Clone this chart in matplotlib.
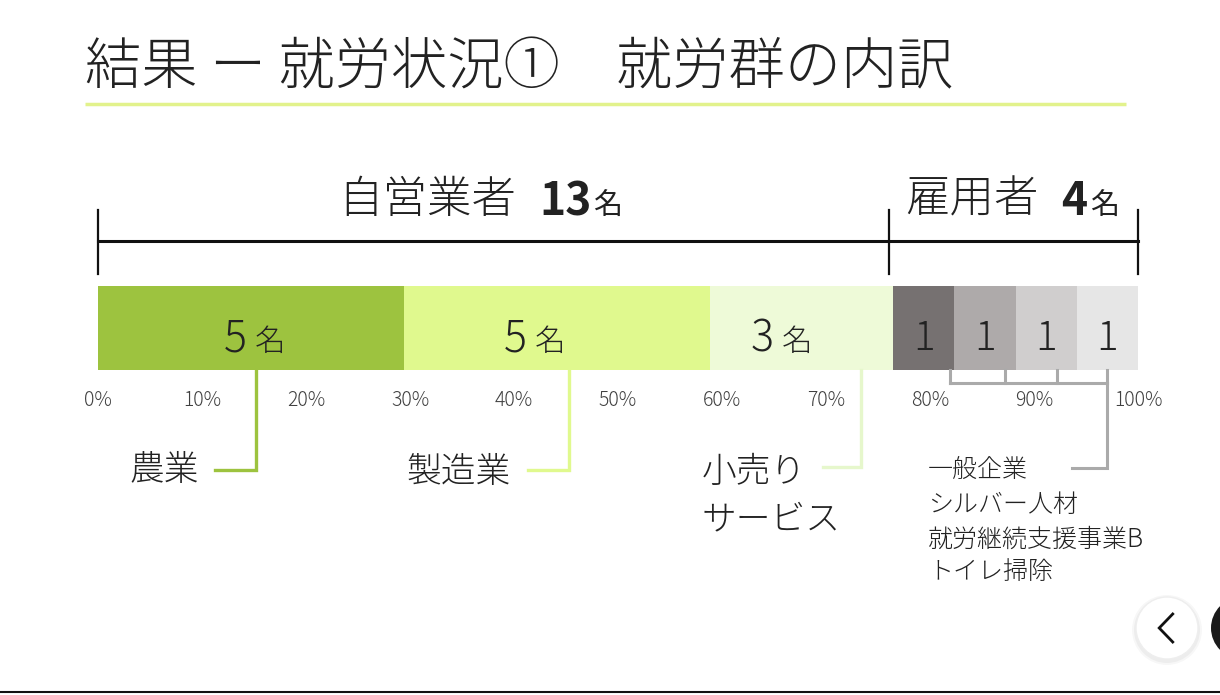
import numpy as np
import matplotlib.pyplot as plt
from matplotlib.patches import Ellipse
from matplotlib import font_manager

plt.rcParams['font.family'] = ['Noto Sans CJK JP', 'DejaVu Sans']

# 細いウェイトがあれば使う
weights = sorted({f.weight for f in font_manager.fontManager.ttflist if f.name == 'Noto Sans CJK JP'},
                 key=lambda w: str(w))
thin = 'light' if any(str(w) in ('300', '350', 'light') or w in (300, 350) for w in weights) else 'normal'

# データ
title = "結果 ー 就労状況①　就労群の内訳"
groups = ['自営業者', '雇用者']
group_totals = [13, 4]
categories = ['農業', '製造業', '小売り\nサービス',
              '一般企業', 'シルバー人材', '就労継続支援事業B', 'トイレ掃除']
counts = [5, 5, 3, 1, 1, 1, 1]
colors = ['#9dc33f', '#e0f98e', '#eefad8',
          '#767171', '#aeaaaa', '#d0cece', '#e6e6e6']
tick_pct = list(range(0, 101, 10))

total = sum(counts)
pct = np.array(counts) / total * 100
left = np.concatenate([[0], np.cumsum(pct)[:-1]])
centers = left + pct / 2
group_split = group_totals[0] / total * 100

fig = plt.figure(figsize=(12.2, 6.95), dpi=100)
ax = fig.add_axes([0, 0, 1, 1])
# x: パーセント (0% -> 98px, 100% -> 1138px), y: 上から下
ax.set_xlim(-98 / 10.4, (1220 - 98) / 10.4)
ax.set_ylim(695, 0)
ax.axis('off')

txt = '#222222'

# タイトルと下線
ax.text(-1.25, 68, title, fontsize=40.5, color=txt, va='center', ha='left', fontweight=thin)
ax.plot([-1.25, 98.8], [104, 104], color='#e2f28c', lw=2.5, solid_capstyle='butt')

# 上の括弧
ax.plot([0, 100], [241, 241], color='#111111', lw=2.2)
for xv in [0, group_split - 0.45, 100]:
    ax.plot([xv, xv], [210, 274], color='#111111', lw=1.6)

ax.text(23.1, 200, groups[0], fontsize=32, ha='left', va='center', color=txt, fontweight=thin)
ax.text(42.4, 202, str(group_totals[0]), fontsize=32, fontweight='bold',
        ha='left', va='center', color=txt)
ax.text(47.6, 207, '名', fontsize=21, ha='left', va='center', color=txt)
ax.text(77.6, 200, groups[1], fontsize=32, ha='left', va='center', color=txt, fontweight=thin)
ax.text(92.6, 202, str(group_totals[1]), fontsize=32, fontweight='bold',
        ha='left', va='center', color=txt)
ax.text(95.4, 207, '名', fontsize=21, ha='left', va='center', color=txt)

# 帯グラフ
ax.barh(328, pct, left=left, height=84, color=colors, edgecolor='none')

# 人数ラベル
shift = [0, -2.5, -2.3]
for i in range(len(counts)):
    if i < 3:
        c = centers[i] + shift[i]
        ax.text(c - 0.4, 351, str(counts[i]), fontsize=31, ha='right', va='baseline', color=txt,
                fontweight=thin)
        ax.text(c + 0.4, 351, '名', fontsize=22, ha='left', va='baseline', color=txt, fontweight=thin)
    else:
        ax.text(centers[i], 350, str(counts[i]), fontsize=29, ha='center', va='baseline', color=txt,
                fontweight=thin)

# 目盛りラベル
for t in tick_pct:
    ax.text(t, 400, f'{t}%', fontsize=14, ha='center', va='center', color='#404040',
            fontweight=thin)

# 引き出し線 (緑系)
lead_x = [15.2, 45.3, 73.4]
lead_end = [11.25, 41.3, 69.7]
lead_y = [470, 470, 467]
lead_colors = [colors[0], colors[1], '#e6f7cc']
for i in range(3):
    ax.plot([lead_x[i], lead_x[i], lead_end[i]], [370, lead_y[i], lead_y[i]],
            color=lead_colors[i], lw=2.4, solid_joinstyle='miter')

ax.text(3.0, 470, categories[0], fontsize=25, ha='left', va='center', color=txt, fontweight=thin)
ax.text(29.7, 472, categories[1], fontsize=25, ha='left', va='center', color=txt, fontweight=thin)
ax.text(58.0, 496, categories[2], fontsize=25, ha='left', va='center', color=txt,
        linespacing=1.4, fontweight=thin)

# 引き出し線 (灰色)
gray_x = [81.9, 87.2, 92.2, 97.0]
for xv in gray_x:
    ax.plot([xv, xv], [370, 383], color='#aaaaaa', lw=2.2)
ax.plot([gray_x[0], gray_x[-1]], [383, 383], color='#aaaaaa', lw=2.2)
ax.plot([gray_x[-1], gray_x[-1], 93.7], [383, 468, 468], color='#aaaaaa', lw=2.2,
        solid_joinstyle='miter')

gray_y = [470, 505, 540, 572]
for name, yv in zip(categories[3:], gray_y):
    ax.text(79.8, yv, name, fontsize=18, ha='left', va='center', color=txt, fontweight=thin)

# 画面下の操作ボタン
bx = 1167 / 10.4 - 9.4231
for r, a in [(70, 0.03), (66, 0.04)]:
    ax.add_patch(Ellipse((bx, 630), r / 10.4, r, facecolor='#000000', alpha=a,
                         edgecolor='none', zorder=2))
ax.add_patch(Ellipse((bx, 628), 62 / 10.4, 62, facecolor='white',
                     edgecolor='#eeeeee', lw=1.0, zorder=3))
ax.plot([bx + 0.55, bx - 0.75, bx + 0.55], [614, 628, 642], color='#111111', lw=2.0,
        zorder=4, solid_joinstyle='miter')
ax.add_patch(Ellipse((1242 / 10.4 - 9.4231, 628), 62 / 10.4, 62, facecolor='#1a1a1a',
                     edgecolor='none', zorder=3))
ax.plot([-9.4231, 108], [692, 692], color='#111111', lw=1.5)

fig.savefig('out.png', dpi=100)
